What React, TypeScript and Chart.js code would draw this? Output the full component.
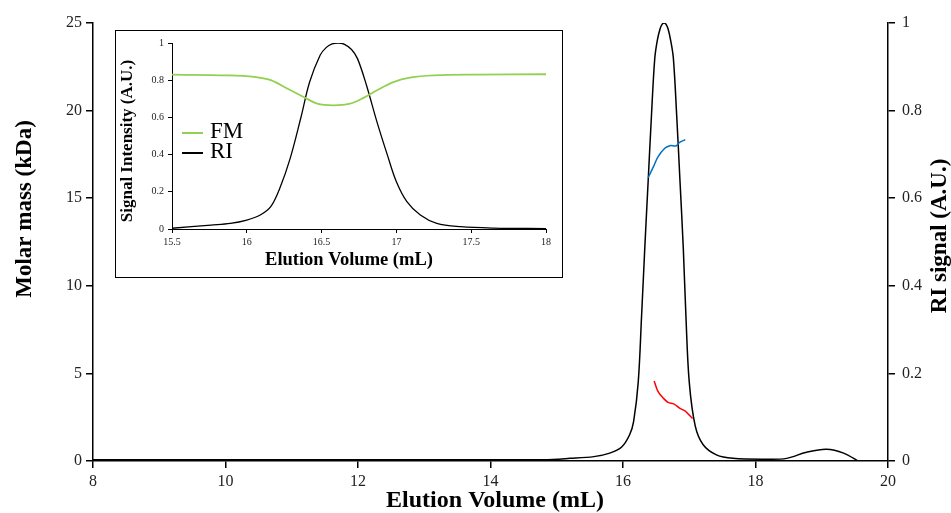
import React, { useEffect, useRef } from "react";
import { Chart, registerables } from "chart.js";
Chart.register(...registerables);

// ---------- DATA ----------
// Main chart: RI trace (right axis)
const riVolume = [8, 9, 10, 11, 12, 13, 14, 14.8, 15.2, 15.56, 15.8, 15.98, 16.1, 16.16, 16.23, 16.28, 16.33, 16.38, 16.43, 16.48, 16.52, 16.56, 16.59, 16.62, 16.65, 16.68, 16.72, 16.76, 16.81, 16.86, 16.91, 16.95, 17.0, 17.09, 17.21, 17.41, 17.66, 18.17, 18.47, 18.77, 19.07, 19.33, 19.58];
const riSignal = [0.003, 0.003, 0.003, 0.003, 0.003, 0.003, 0.003, 0.003, 0.006, 0.01, 0.018, 0.032, 0.06, 0.09, 0.18, 0.33, 0.49, 0.64, 0.79, 0.92, 0.962, 0.987, 0.997, 1.0, 0.997, 0.987, 0.96, 0.92, 0.79, 0.64, 0.486, 0.33, 0.18, 0.08, 0.037, 0.014, 0.006, 0.004, 0.006, 0.02, 0.027, 0.018, -0.003];
// Molar mass traces (left axis)
const blueVolume = [16.38, 16.46, 16.53, 16.63, 16.71, 16.8, 16.85, 16.94];
const blueMass = [16.17, 16.8, 17.37, 17.85, 18.0, 17.98, 18.17, 18.34];
const redVolume = [16.47, 16.53, 16.61, 16.68, 16.77, 16.86, 16.94, 16.99, 17.05];
const redMass = [4.57, 3.96, 3.58, 3.35, 3.25, 3.0, 2.85, 2.66, 2.43];

// Inset chart
const insetFMVolume = [15.5, 15.87, 16.05, 16.16, 16.27, 16.38, 16.47, 16.58, 16.69, 16.78, 16.87, 16.98, 17.09, 17.25, 17.54, 18.0];
const insetFM = [0.83, 0.826, 0.818, 0.8, 0.755, 0.71, 0.674, 0.665, 0.674, 0.705, 0.746, 0.79, 0.814, 0.826, 0.83, 0.832];
const insetRIVolume = [15.5, 15.76, 15.89, 16.0, 16.09, 16.16, 16.22, 16.29, 16.36, 16.42, 16.49, 16.53, 16.57, 16.61, 16.65, 16.7, 16.74, 16.8, 16.87, 16.94, 17.0, 17.07, 17.16, 17.27, 17.43, 17.65, 18.0];
const insetRI = [0.004, 0.021, 0.03, 0.048, 0.075, 0.12, 0.218, 0.38, 0.594, 0.79, 0.934, 0.975, 0.995, 1.0, 0.994, 0.965, 0.916, 0.773, 0.576, 0.397, 0.254, 0.147, 0.075, 0.03, 0.0125, 0.005, 0.002];

// Ticks
const mainXTicks = [8, 10, 12, 14, 16, 18, 20];
const massTicks = [0, 5, 10, 15, 20, 25];
const riTicks = [0, 0.2, 0.4, 0.6, 0.8, 1];
const insetXTicks = [15.5, 16, 16.5, 17, 17.5, 18];
const insetYTicks = [0, 0.2, 0.4, 0.6, 0.8, 1];

// Labels
const mainXTitle = "Elution Volume (mL)";
const leftTitle = "Molar mass (kDa)";
const rightTitle = "RI signal (A.U.)";
const insetXTitle = "Elution Volume (mL)";
const insetYTitle = "Signal Intensity (A.U.)";

// ---------- HELPERS ----------
const SERIF = "'Liberation Serif', 'Times New Roman', serif";
const zip = (xs: number[], ys: number[]) => xs.map((x, i) => ({ x, y: ys[i] }));
const setTicks = (vals: number[]) => (s: any) => {
  s.ticks = vals.map((v) => ({ value: v }));
};

type TextItem = { text: string; x: number; y: number; rot?: number; size: number; bold?: boolean; color?: string; align?: CanvasTextAlign };

const makeTextPlugin = (id: string, items: TextItem[], legend?: { x: number; y: number; gap: number; lineLen: number; size: number }) => ({
  id,
  afterDraw(chart: any) {
    const ctx = chart.ctx as CanvasRenderingContext2D;
    ctx.save();
    items.forEach((t) => {
      ctx.save();
      ctx.translate(t.x, t.y);
      if (t.rot) ctx.rotate(t.rot);
      ctx.font = `${t.bold ? "bold " : ""}${t.size}px ${SERIF}`;
      ctx.fillStyle = t.color || "#000";
      ctx.textAlign = t.align || "center";
      ctx.textBaseline = "middle";
      ctx.fillText(t.text, 0, 0);
      ctx.restore();
    });
    if (legend) {
      chart.data.datasets.forEach((ds: any, i: number) => {
        const y = legend.y + i * legend.gap;
        ctx.strokeStyle = ds.borderColor;
        ctx.lineWidth = 2;
        ctx.beginPath();
        ctx.moveTo(legend.x, y);
        ctx.lineTo(legend.x + legend.lineLen, y);
        ctx.stroke();
        ctx.font = `${legend.size}px ${SERIF}`;
        ctx.fillStyle = "#000";
        ctx.textAlign = "left";
        ctx.textBaseline = "middle";
        ctx.fillText(ds.label, legend.x + legend.lineLen + 7, y - 1);
      });
    }
    ctx.restore();
  },
});

const axisStyle = (tickLen: number, lw: number, fontSize: number, pad: number) => ({
  grid: { display: true, drawOnChartArea: false, drawTicks: true, tickLength: tickLen, color: "#000", lineWidth: lw },
  border: { display: true, color: "#000", width: lw },
  ticks: { color: "#222", font: { family: SERIF, size: fontSize }, padding: pad, callback: (v: any) => String(v), autoSkip: false, maxRotation: 0 },
});

const lineDs = (label: string, data: any, color: string, width: number, extra: any = {}) => ({
  label,
  data,
  borderColor: color,
  borderWidth: width,
  pointRadius: 0,
  tension: 0.35,
  ...extra,
});

export default function App() {
  const mainRef = useRef<HTMLCanvasElement>(null);
  const insetRef = useRef<HTMLCanvasElement>(null);

  useEffect(() => {
    const main = new Chart(mainRef.current!, {
      type: "line",
      data: {
        datasets: [
          lineDs("Mw (blue)", zip(blueVolume, blueMass), "#0070C0", 1.5, { yAxisID: "yL" }),
          lineDs("Mw (red)", zip(redVolume, redMass), "#FF0000", 1.5, { yAxisID: "yL" }),
          lineDs("RI", zip(riVolume, riSignal), "#000", 1.5, { yAxisID: "yR" }),
        ],
      },
      options: {
        responsive: false,
        animation: false,
        events: [],
        layout: { padding: { top: 23, left: 0, right: 0, bottom: 0 } },
        plugins: { legend: { display: false }, tooltip: { enabled: false } },
        scales: {
          x: {
            type: "linear", position: "bottom", min: 8, max: 20,
            afterBuildTicks: setTicks(mainXTicks),
            afterFit: (s: any) => { s.height = 52; },
            ...axisStyle(7, 1.5, 16, 4),
          },
          yL: {
            type: "linear", position: "left", min: 0, max: 25,
            afterBuildTicks: setTicks(massTicks),
            afterFit: (s: any) => { s.width = 93; },
            ...axisStyle(7, 1.5, 16, 4),
          },
          yR: {
            type: "linear", position: "right", min: 0, max: 1,
            afterBuildTicks: setTicks(riTicks),
            afterFit: (s: any) => { s.width = 63; },
            ...axisStyle(7, 1.5, 16, 7),
          },
        },
      } as any,
      plugins: [
        makeTextPlugin("mainTitles", [
          { text: mainXTitle, x: 495, y: 501, size: 24, bold: true },
          { text: leftTitle, x: 25, y: 209, rot: -Math.PI / 2, size: 23, bold: true },
          { text: rightTitle, x: 940, y: 236, rot: -Math.PI / 2, size: 23, bold: true },
        ]),
      ],
    });

    const inset = new Chart(insetRef.current!, {
      type: "line",
      data: {
        datasets: [
          lineDs("FM", zip(insetFMVolume, insetFM), "#92D050", 1.8),
          lineDs("RI", zip(insetRIVolume, insetRI), "#000", 1.3),
        ],
      },
      options: {
        responsive: false,
        animation: false,
        events: [],
        layout: { padding: { top: 12, left: 0, right: 16, bottom: 0 } },
        plugins: { legend: { display: false }, tooltip: { enabled: false } },
        scales: {
          x: {
            type: "linear", position: "bottom", min: 15.5, max: 18,
            afterBuildTicks: setTicks(insetXTicks),
            afterFit: (s: any) => { s.height = 48; },
            ...axisStyle(4, 1, 10, 3),
          },
          y: {
            type: "linear", position: "left", min: 0, max: 1,
            afterBuildTicks: setTicks(insetYTicks),
            afterFit: (s: any) => { s.width = 56; },
            ...axisStyle(4, 1, 10, 4),
          },
        },
      } as any,
      plugins: [
        makeTextPlugin(
          "insetTitles",
          [
            { text: insetXTitle, x: 233, y: 229, size: 18.5, bold: true },
            { text: insetYTitle, x: 12, y: 110, rot: -Math.PI / 2, size: 17, bold: true },
          ],
          { x: 66, y: 102, gap: 20, lineLen: 21, size: 23 }
        ),
      ],
    });

    return () => {
      main.destroy();
      inset.destroy();
    };
  }, []);

  return (
    <div style={{ position: "fixed", left: 0, top: 0, width: 951, height: 513, background: "#fff" }}>
      <canvas ref={mainRef} width={951} height={513} style={{ position: "absolute", left: 0, top: 0, width: 951, height: 513 }} />
      <div style={{ position: "absolute", left: 115, top: 30, width: 448, height: 248, border: "1.5px solid #000", boxSizing: "border-box", background: "#fff" }} />
      <canvas ref={insetRef} width={446} height={246} style={{ position: "absolute", left: 116, top: 31, width: 446, height: 246 }} />
    </div>
  );
}
